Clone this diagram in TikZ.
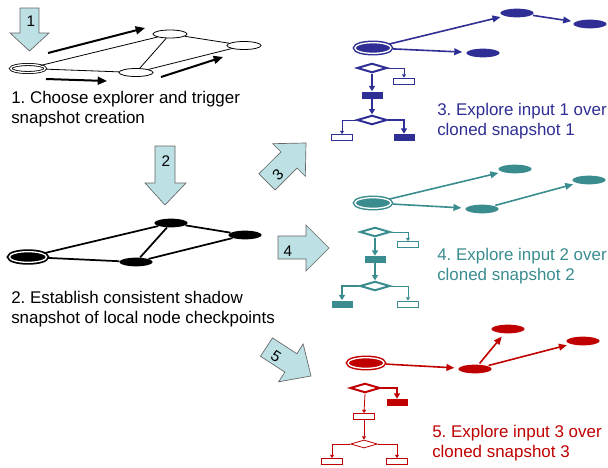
\documentclass[tikz,border=0pt]{standalone}
\usepackage{fontspec}
\setmainfont{Liberation Sans}
\usetikzlibrary{shapes.geometric,arrows.meta}
\definecolor{runblue}{RGB}{46,46,148}
\definecolor{runteal}{RGB}{58,140,143}
\definecolor{runred}{RGB}{192,0,0}
\definecolor{stepfill}{RGB}{188,224,227}
\tikzset{plainnode/.style={ellipse,draw,fill=white,inner sep=0pt,minimum width=25.5pt,minimum height=6pt,line width=0.6pt},
    solidnode/.style={ellipse,fill,inner sep=0pt,minimum width=25pt,minimum height=6.5pt},
    explorer/.style={ellipse,draw,fill,inner sep=0pt,minimum width=27pt,minimum height=8pt,line width=1.1pt,double=white,double distance=1pt},
    goarrow/.style={line width=1.2pt,-{Triangle[length=6pt,width=5pt]},shorten >=3pt,shorten <=1pt},
    pusharrow/.style={line width=1.5pt,-{Triangle[length=7pt,width=6pt]}},
    cond/.style={diamond,draw,fill=white,inner sep=0pt,minimum width=22.5pt,minimum height=7pt,line width=1.5pt},
    stmt/.style={rectangle,draw,fill=white,inner sep=0pt,minimum width=15.75pt,minimum height=4.5pt,line width=0.6pt},
    taken/.style={rectangle,fill,inner sep=0pt,minimum width=15.75pt,minimum height=5.25pt},
    hot/.style={line width=1.5pt,-{Triangle[length=4pt,width=4.5pt]}},
    cold/.style={line width=0.6pt,-{Triangle[length=2.5pt,width=3pt]}},
    stepshape/.style={draw=black!60,fill=stepfill,line width=0.5pt},
    caption/.style={anchor=north west,inner sep=0pt,align=left,font=\fontsize{12.7}{15}\selectfont\frenchspacing},
    stepnum/.style={inner sep=0pt,font=\fontsize{11.5}{12}\selectfont}}

\begin{document}
\begin{tikzpicture}[x=0.75pt,y=0.75pt,yscale=-1,xscale=1]
\useasboundingbox (0,0) rectangle (608,468);

%Shape: Down Arrow [step 1]
\draw [stepshape] (20,8) -- (39,8) -- (39,33) -- (49,33) -- (29.5,51) -- (10,33) -- (20,33) -- cycle ;
\node [stepnum] (num1) at (31,21) {1};
%Shape: Down Arrow [step 2]
\draw [stepshape] (155,146) -- (175,146) -- (175,183) -- (186,183) -- (165,205) -- (145,183) -- (155,183) -- cycle ;
\node [stepnum] (num2) at (166,161) {2};
%Shape: Up Right Arrow [step 3]
\draw [stepshape] (258.9,173.8) -- (280.9,151.9) -- (272.7,143.7) -- (306,143) -- (305.3,176.3) -- (297.1,168.1) -- (275.2,190) -- cycle ;
\node [stepnum,rotate=45] (num3) at (278,175) {3};
%Shape: Right Arrow [step 4]
\draw [stepshape] (278,236) -- (306,236) -- (306,225) -- (329,248) -- (306,271) -- (306,259) -- (278,259) -- cycle ;
\node [stepnum] (num4) at (288,251) {4};
%Shape: Down Right Arrow [step 5]
\draw [stepshape] (272.5,337.9) -- (296.9,353.7) -- (303.2,344) -- (311,376) -- (278.6,381.8) -- (284.9,372.1) -- (260.5,356.3) -- cycle ;
\node [stepnum,rotate=-33] (num5) at (276,356) {5};

% Choose explorer
\node [explorer,fill=white,line width=0.6pt,minimum width=26pt,minimum height=6pt] (s1x) at (28,68.5) {};
\node [plainnode] (s1a) at (170,34) {};
\node [plainnode] (s1b) at (136,72.5) {};
\node [plainnode] (s1c) at (244,45.5) {};
\draw [line width=0.6pt] (s1x) -- (s1a) (s1x) -- (s1b) (s1a) -- (s1b) (s1a) -- (s1c) (s1b) -- (s1c) ;
\coordinate (p1) at (48,53) ; \coordinate (q1) at (145,28) ;
\coordinate (p2) at (46,79) ; \coordinate (q2) at (107,81) ;
\coordinate (p3) at (161,77) ; \coordinate (q3) at (223,57) ;
\draw [pusharrow] (p1) -- (q1) ;
\draw [pusharrow] (p2) -- (q2) ;
\draw [pusharrow] (p3) -- (q3) ;
% Text Node
\node [caption] (s1cap) at (11,91) {1. Choose explorer and trigger\\snapshot creation};

% Shadow snapshot
\node [explorer,line width=1.3pt,minimum width=28pt,minimum height=8pt] (s2x) at (28,257) {};
\node [solidnode] (s2a) at (171,223) {};
\node [solidnode] (s2b) at (136,262) {};
\node [solidnode] (s2c) at (245,235) {};
\draw [line width=1.3pt] (s2x) -- (s2a) (s2x) -- (s2b) (s2a) -- (s2b) (s2a) -- (s2c) (s2b) -- (s2c) ;
% Text Node
\node [caption] (s2cap) at (11,291) {2. Establish consistent shadow\\snapshot of local node checkpoints};

% Clone 1
\begin{scope}[color=runblue]
\node [explorer] (bx) at (373,48) {};
\node [solidnode] (ba) at (517,13) {};
\node [solidnode] (bb) at (590,24) {};
\node [solidnode] (bc) at (483,53) {};
\draw [goarrow] (bx) -- (ba) ;
\draw [goarrow] (bx) -- (bc) ;
\draw [goarrow] (ba) -- (bb) ;
\node [cond] (bd1) at (372,68) {};
\node [stmt] (bs1) at (404,81) {};
\node [taken] (bt1) at (372,95) {};
\node [cond] (bd2) at (372,120) {};
\node [stmt] (bs2) at (342,137.5) {};
\node [taken] (bt2) at (404,137.5) {};
\draw [cold] (bd1.east) -| (bs1.north) ;
\draw [hot] (bd1.south) -- (bt1.north) ;
\draw [hot] (bt1.south) -- (bd2.north) ;
\draw [cold] (bd2.west) -| (bs2.north) ;
\draw [hot] (bd2.east) -| (bt2.north) ;
% Text Node
\node [caption] (bcap) at (437,103) {3. Explore input 1 over\\cloned snapshot 1};
\end{scope}

% Clone 2
\begin{scope}[color=runteal]
\node [explorer] (tx) at (373,203) {};
\node [solidnode] (ta) at (515,169) {};
\node [solidnode] (tb) at (482,209) {};
\node [solidnode] (tc) at (589,180) {};
\draw [goarrow] (tx) -- (ta) ;
\draw [goarrow] (tx) -- (tb) ;
\draw [goarrow] (tb) -- (tc) ;
\node [cond] (td1) at (375,232) {};
\node [stmt] (ts1) at (408,244.5) {};
\node [taken] (tt1) at (375,259.5) {};
\node [cond] (td2) at (375,286) {};
\node [taken] (tt2) at (342,304) {};
\node [stmt] (ts2) at (408,304) {};
\draw [cold] (td1.east) -| (ts1.north) ;
\draw [hot] (td1.south) -- (tt1.north) ;
\draw [hot] (tt1.south) -- (td2.north) ;
\draw [hot] (td2.west) -| (tt2.north) ;
\draw [cold] (td2.east) -| (ts2.north) ;
% Text Node
\node [caption] (tcap) at (437,248) {4. Explore input 2 over\\cloned snapshot 2};
\end{scope}

% Clone 3
\begin{scope}[color=runred]
\node [explorer] (rx) at (366,363) {};
\node [solidnode] (ra) at (508,329) {};
\node [solidnode] (rb) at (475,369) {};
\node [solidnode] (rc) at (583,341) {};
\draw [goarrow] (rx) -- (rb) ;
\draw [goarrow] (rb) -- (ra) ;
\draw [goarrow] (rb) -- (rc) ;
\node [cond] (rd1) at (365,388) {};
\node [taken] (rt1) at (397,402.5) {};
\node [stmt] (rs1) at (364,416.5) {};
\node [cond,line width=0.6pt,minimum width=20pt,minimum height=6pt] (rd2) at (364,444) {};
\node [stmt] (rs2) at (332,461.5) {};
\node [stmt] (rs3) at (397,461.5) {};
\draw [hot] (rd1.east) -| (rt1.north) ;
\draw [cold] (rd1.south) -- (rs1.north) ;
\draw [cold] (rs1.south) -- (rd2.north) ;
\draw [cold] (rd2.west) -| (rs2.north) ;
\draw [cold] (rd2.east) -| (rs3.north) ;
% Text Node
\node [caption] (rcap) at (432,425) {5. Explore input 3 over\\cloned snapshot 3};
\end{scope}

\end{tikzpicture}
\end{document}
